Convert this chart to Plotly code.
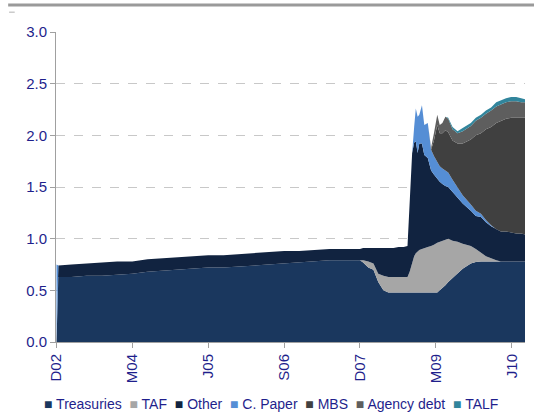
import plotly.graph_objects as go

# snapshots of the balance sheet, $ trillions
dates = [
    "2002-12-01", "2002-12-12",
    "2003-03-01", "2003-06-01", "2003-09-01", "2003-12-01",
    "2004-03-01", "2004-06-01", "2004-09-01", "2004-12-01",
    "2005-03-01", "2005-06-01", "2005-09-01", "2005-12-01",
    "2006-03-01", "2006-06-01", "2006-09-01", "2006-12-01",
    "2007-03-01", "2007-06-01", "2007-09-01", "2007-12-01",
    "2007-12-20", "2008-01-20", "2008-02-20", "2008-03-20", "2008-04-20",
    "2008-05-20", "2008-06-20", "2008-07-20", "2008-08-20", "2008-09-12",
    "2008-09-25", "2008-10-10", "2008-10-22", "2008-11-01", "2008-11-12",
    "2008-11-22", "2008-12-08", "2008-12-22", "2009-01-12", "2009-02-01",
    "2009-02-18", "2009-03-10", "2009-03-25", "2009-04-10", "2009-04-28",
    "2009-05-15", "2009-06-10", "2009-07-10", "2009-08-10", "2009-09-28",
    "2009-10-28", "2009-11-28", "2009-12-28", "2010-01-28", "2010-02-28",
    "2010-03-28", "2010-04-28", "2010-05-28", "2010-06-28", "2010-07-28",
    "2010-08-20",
]

treasuries = [
    0.00, 0.63,
    0.63, 0.64, 0.64, 0.65,
    0.66, 0.68, 0.69, 0.70,
    0.71, 0.72, 0.72, 0.73,
    0.74, 0.75, 0.76, 0.77,
    0.78, 0.79, 0.79, 0.79,
    0.77, 0.72, 0.70, 0.58, 0.50,
    0.48, 0.48, 0.48, 0.48, 0.48,
    0.48, 0.48, 0.48, 0.48, 0.48,
    0.48, 0.48, 0.48, 0.48, 0.48,
    0.48, 0.48, 0.50, 0.52, 0.55,
    0.58, 0.62, 0.67, 0.71, 0.76,
    0.775, 0.78, 0.78, 0.78, 0.78,
    0.78, 0.78, 0.78, 0.78, 0.78,
    0.78,
]

taf = [
    0, 0,
    0, 0, 0, 0,
    0, 0, 0, 0,
    0, 0, 0, 0,
    0, 0, 0, 0,
    0, 0, 0, 0,
    0.02, 0.06, 0.06, 0.08, 0.14,
    0.15, 0.15, 0.15, 0.15, 0.15,
    0.20, 0.30, 0.35, 0.38, 0.40,
    0.41, 0.42, 0.43, 0.44, 0.45,
    0.46, 0.48, 0.47, 0.46, 0.44,
    0.42, 0.36, 0.30, 0.24, 0.17,
    0.125, 0.08, 0.05, 0.03, 0.01,
    0, 0, 0, 0, 0,
    0,
]

other = [
    0.00, 0.11,
    0.12, 0.12, 0.13, 0.13,
    0.12, 0.12, 0.12, 0.12,
    0.12, 0.12, 0.12, 0.12,
    0.12, 0.12, 0.12, 0.11,
    0.11, 0.11, 0.11, 0.11,
    0.12, 0.13, 0.15, 0.25, 0.27,
    0.28, 0.28, 0.29, 0.29, 0.30,
    0.72, 1.05, 1.10, 1.08, 0.95,
    1.03, 1.02, 0.90, 0.86, 0.73,
    0.68, 0.62, 0.58, 0.55, 0.52,
    0.50, 0.47, 0.43, 0.39, 0.34,
    0.32, 0.35, 0.33, 0.31, 0.30,
    0.29, 0.29, 0.28, 0.27, 0.27,
    0.26,
]

c_paper = [
    0.75, 0,
    0, 0, 0, 0,
    0, 0, 0, 0,
    0, 0, 0, 0,
    0, 0, 0, 0,
    0, 0, 0, 0,
    0, 0, 0, 0, 0,
    0, 0, 0, 0, 0,
    0, 0, 0.15, 0.32, 0.35,
    0.28, 0.37, 0.29, 0.34, 0.20,
    0.18, 0.16, 0.15, 0.15, 0.15,
    0.14, 0.12, 0.10, 0.08, 0.06,
    0.05, 0.03, 0.02, 0.01, 0,
    0, 0, 0, 0, 0,
    0,
]

mbs = [
    0, 0,
    0, 0, 0, 0,
    0, 0, 0, 0,
    0, 0, 0, 0,
    0, 0, 0, 0,
    0, 0, 0, 0,
    0, 0, 0, 0, 0,
    0, 0, 0, 0, 0,
    0, 0, 0, 0, 0,
    0, 0, 0, 0, 0,
    0.15, 0.36, 0.32, 0.34, 0.39,
    0.39, 0.38, 0.42, 0.50, 0.63,
    0.73, 0.78, 0.88, 0.95, 1.03,
    1.07, 1.09, 1.11, 1.12, 1.12,
    1.13,
]

agency_debt = [
    0, 0,
    0, 0, 0, 0,
    0, 0, 0, 0,
    0, 0, 0, 0,
    0, 0, 0, 0,
    0, 0, 0, 0,
    0, 0, 0, 0, 0,
    0, 0, 0, 0, 0,
    0, 0, 0, 0, 0,
    0, 0, 0, 0, 0.02,
    0.07, 0.10, 0.08, 0.10, 0.13,
    0.13, 0.11, 0.10, 0.12, 0.13,
    0.14, 0.15, 0.15, 0.16, 0.16,
    0.16, 0.16, 0.16, 0.16, 0.15,
    0.15,
]

talf = [
    0, 0,
    0, 0, 0, 0,
    0, 0, 0, 0,
    0, 0, 0, 0,
    0, 0, 0, 0,
    0, 0, 0, 0,
    0, 0, 0, 0, 0,
    0, 0, 0, 0, 0,
    0, 0, 0, 0, 0,
    0, 0, 0, 0, 0,
    0, 0, 0, 0, 0,
    0.01, 0.02, 0.02, 0.03, 0.03,
    0.03, 0.03, 0.03, 0.03, 0.04,
    0.04, 0.04, 0.04, 0.04, 0.04,
    0.03,
]

tick_dates = ["2002-12-01", "2004-03-01", "2005-06-01", "2006-09-01",
              "2007-12-01", "2009-03-01", "2010-06-01"]
tick_labels = ["D02", "M04", "J05", "S06", "D07", "M09", "J10"]

series = [
    ("Treasuries", treasuries, "#1a375e"),
    ("TAF", taf, "#a6a6a6"),
    ("Other", other, "#112340"),
    ("C. Paper", c_paper, "#558ed5"),
    ("MBS", mbs, "#404040"),
    ("Agency debt", agency_debt, "#5e5e5e"),
    ("TALF", talf, "#31859c"),
]

text_col = "#1f1f8c"

fig = go.Figure()
for name, vals, col in series:
    fig.add_trace(go.Scatter(
        x=dates, y=vals, name=name, mode="lines",
        stackgroup="one", line=dict(width=0, color=col),
        fillcolor=col, showlegend=False,
    ))

# legend drawn as one line of text so it fits the narrow page
legend_txt = "  ".join(
    f"<span style='color:{col}'>■</span> {name}" for name, _, col in series
)
fig.add_annotation(
    text=legend_txt, xref="paper", yref="paper", x=0.458, y=-0.2,
    xanchor="center", yanchor="middle", showarrow=False,
    font=dict(size=14, color=text_col),
)

# grey rule across the top, as in the source page, and the small dash below it
fig.add_shape(type="line", xref="paper", yref="paper",
              x0=-0.102, x1=1.02, y0=1.087, y1=1.087,
              line=dict(color="#9a9a9a", width=3))
fig.add_shape(type="line", xref="paper", yref="paper",
              x0=-0.100, x1=-0.088, y0=1.064, y1=1.064,
              line=dict(color="#b0b0b0", width=1))

fig.update_layout(
    width=534, height=412,
    margin=dict(l=56, r=9, t=32, b=70, autoexpand=False),
    paper_bgcolor="white", plot_bgcolor="white",
    font=dict(family="Liberation Sans, Arial, sans-serif", color=text_col, size=12),
    showlegend=False,
    xaxis=dict(
        type="date", range=["2002-11-28", "2010-08-20"],
        tickvals=tick_dates, ticktext=tick_labels, tickangle=-90,
        showgrid=False, showline=True, linecolor="#a0a0a0", linewidth=1,
        ticks="outside", ticklen=5, tickcolor="#a0a0a0",
        tickfont=dict(size=15, color=text_col), zeroline=False,
    ),
    yaxis=dict(
        range=[0, 3.0], dtick=0.5, tickformat=".1f",
        showgrid=True, gridcolor="#c8c8c8", griddash="dash", gridwidth=1,
        showline=True, linecolor="#a0a0a0", linewidth=1,
        ticks="outside", ticklen=5, tickcolor="#a0a0a0",
        tickfont=dict(size=15, color=text_col), zeroline=False,
    ),
)

# drop the default page margin so the figure sits flush in the window
fig.write_html("out.html", config={"displayModeBar": False},
               post_script="document.body.style.margin='0';")
